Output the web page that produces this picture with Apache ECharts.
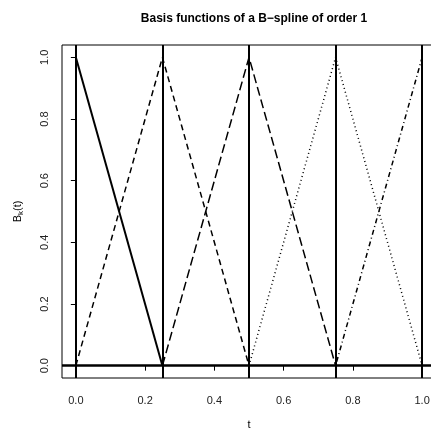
<!DOCTYPE html>
<html>
<head>
<meta charset="utf-8">
<script src="https://cdn.jsdelivr.net/npm/echarts@6/dist/echarts.min.js"></script>
<style>html,body{margin:0;padding:0;background:#fff;}#c{width:431px;height:430px;}</style>
</head>
<body>
<div id="c"></div>
<script>
var knots = [0, 0.25, 0.5, 0.75, 1];
// basis function values at the knots (null = outside support)
var B1 = [1, 0, null, null, null];
var B2 = [0, 1, 0, null, null];
var B3 = [null, 0, 1, 0, null];
var B4 = [null, null, 0, 1, 0];
var B5 = [null, null, null, 0, 1];
var xTicks = [0, 0.2, 0.4, 0.6, 0.8, 1.0];
var yTicks = [0, 0.2, 0.4, 0.6, 0.8, 1.0];

function pairs(vals) {
  var out = [];
  for (var i = 0; i < knots.length; i++) if (vals[i] !== null) out.push([knots[i], vals[i]]);
  return out;
}
var FONT = 'Liberation Sans, Arial, sans-serif';
var chart = echarts.init(document.getElementById('c'), null, {renderer: 'canvas'});
function ser(vals, width, type) {
  return {type: 'line', data: pairs(vals), showSymbol: false, symbol: 'none',
    lineStyle: {color: '#000', width: width, type: type}, animation: false, silent: true};
}
var series = [
  ser(B1, 2, 'solid'),
  ser(B2, 1.5, [6, 4]),
  ser(B3, 1.5, [9, 4]),
  ser(B4, 1.5, [1, 3]),
  ser(B5, 1.5, [1, 3, 5, 3])
];
var knotLines = knots.map(function (k) { return {xAxis: k, lineStyle: {width: 2}}; });
knotLines.push({yAxis: 0, lineStyle: {width: 2.5}});
series.push({type: 'line', data: [], markLine: {silent: true, symbol: 'none', animation: false,
  label: {show: false}, lineStyle: {color: '#000', type: 'solid', width: 2}, data: knotLines}});

chart.setOption({
  animation: false,
  title: {text: 'Basis functions of a B\u2212spline of order 1', left: 249, top: 8, textAlign: 'center',
    textStyle: {fontFamily: FONT, fontSize: 12, fontWeight: 'bold', color: '#000'}},
  grid: {left: 62, top: 45, width: 374, height: 333, outerBoundsMode: 'none',
    show: true, borderColor: '#000', borderWidth: 1, backgroundColor: 'transparent'},
  xAxis: {type: 'value', min: -0.04, max: 1.04,
    name: 't', nameLocation: 'middle', nameGap: 41,
    nameTextStyle: {fontFamily: FONT, fontSize: 11, color: '#000'},
    axisLine: {show: false},
    splitLine: {show: false},
    axisTick: {show: true, inside: false, length: 5, customValues: xTicks, lineStyle: {color: '#000', width: 1}},
    axisLabel: {customValues: xTicks, margin: 17, fontFamily: FONT, fontSize: 11, color: '#222',
      formatter: function (v) { return v.toFixed(1); }}},
  yAxis: {type: 'value', min: -0.04, max: 1.04,
    name: 'B{s|k}(t)', nameLocation: 'middle', nameGap: 37, nameRotate: 90,
    nameTextStyle: {fontFamily: FONT, fontSize: 11, color: '#000', rich: {s: {fontFamily: FONT, fontSize: 8, verticalAlign: 'bottom', padding: [6, 0, 0, 0]}}},
    axisLine: {show: false},
    splitLine: {show: false},
    axisTick: {show: true, inside: false, length: 5, customValues: yTicks, lineStyle: {color: '#000', width: 1}},
    axisLabel: {customValues: yTicks, rotate: 90, margin: 12, fontFamily: FONT, fontSize: 11, color: '#222',
      formatter: function (v) { return v.toFixed(1); }}},
  series: series
});
</script>
</body>
</html>
